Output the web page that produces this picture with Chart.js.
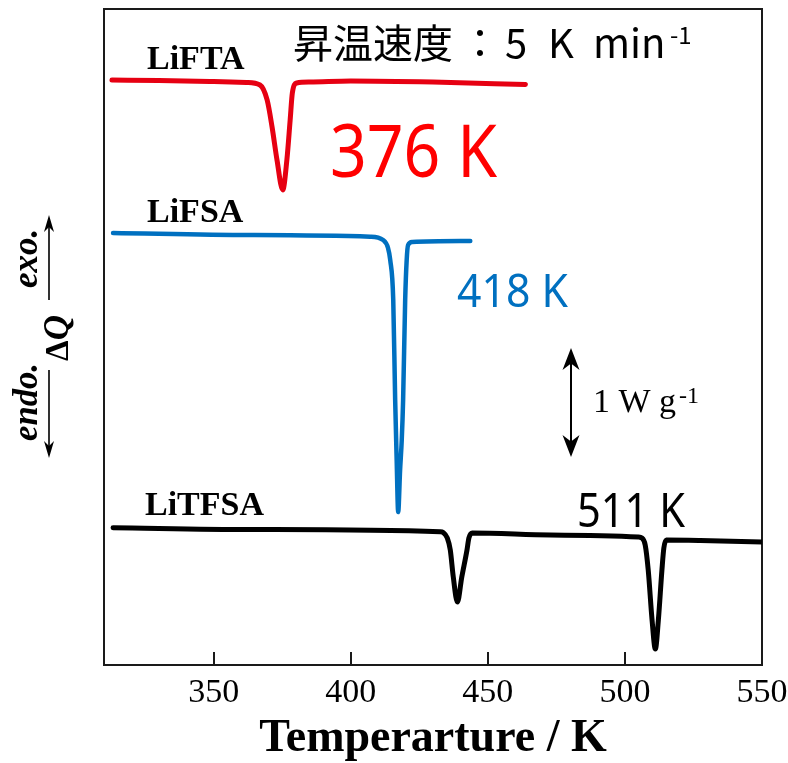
<!DOCTYPE html>
<html><head><meta charset="utf-8">
<script src="https://cdn.jsdelivr.net/npm/chart.js@4"></script>
<style>html,body{margin:0;padding:0;background:#fff}canvas{display:block}</style>
</head><body>
<canvas id="c" width="788" height="763"></canvas>
<script>
// ---- data (heat flow, offset, W g^-1) ----
const xTicks = [350, 400, 450, 500, 550];

const liftaT = [312.9, 330, 350, 362, 366.9, 369.5, 371.3, 373.1, 375.2, 376.7, 377.9, 378.7, 380.3, 385, 400, 430, 463.7];
const liftaQ = [5.351, 5.346, 5.337, 5.328, 5.305, 5.168, 4.921, 4.619, 4.345, 4.619, 4.985, 5.232, 5.323, 5.332, 5.342, 5.332, 5.309];

const lifsaT = [313.3, 363.3, 407.1, 411.8, 413.6, 414.4, 415.5, 416.2, 416.75, 417.3, 418.0, 418.6, 419.1, 419.85, 420.4, 420.9, 422.4, 443.6];
const lifsaQ = [3.951, 3.932, 3.917, 3.887, 3.814, 3.704, 3.338, 2.424, 1.875, 1.399, 1.784, 2.058, 2.424, 3.338, 3.704, 3.841, 3.869, 3.878];

const litfsaT = [313.3, 363.3, 432.6, 433.7, 435.2, 436.3, 437.4, 438.9, 440.5, 442.4, 443.1, 444.3, 472.8, 504.9, 506.2, 507.4, 508.5, 509.9, 511.1, 512.2, 513.5, 514.2, 515.1, 527.5, 550];
const litfsaQ = [1.256, 1.239, 1.219, 1.212, 1.162, 1.052, 0.805, 0.576, 0.805, 1.052, 1.162, 1.207, 1.189, 1.171, 1.162, 1.098, 0.869, 0.412, 0.146, 0.412, 0.869, 1.070, 1.143, 1.139, 1.125];

const seriesNames = ['LiFTA', 'LiFSA', 'LiTFSA'];
const peakLabels = ['376 K', '418 K', '511 K'];

const pts = (xs, ys) => xs.map((x, i) => ({x: x, y: ys[i]}));

function arrowHead(ctx, x, y, dir, w, len) {
  // dir: -1 up, +1 down
  ctx.beginPath();
  ctx.moveTo(x, y);
  ctx.lineTo(x - w / 2, y - dir * len);
  ctx.lineTo(x, y - dir * len * 0.7);
  ctx.lineTo(x + w / 2, y - dir * len);
  ctx.closePath();
  ctx.fill();
}

const deco = {
  id: 'deco',
  beforeDatasetsDraw(chart) {
    const ctx = chart.ctx, a = chart.chartArea, xs = chart.scales.x;
    ctx.save();
    ctx.strokeStyle = '#1a1a1a';
    ctx.lineWidth = 2;
    ctx.strokeRect(a.left, a.top, a.right - a.left, a.bottom - a.top);
    ctx.beginPath();
    xTicks.forEach(v => {
      const px = Math.round(xs.getPixelForValue(v));
      ctx.moveTo(px, a.bottom);
      ctx.lineTo(px, a.bottom - 13);
    });
    ctx.stroke();
    ctx.restore();
  },
  afterDraw(chart) {
    const ctx = chart.ctx;
    ctx.save();
    ctx.textBaseline = 'alphabetic';
    ctx.textAlign = 'left';
    // series names
    ctx.fillStyle = '#000';
    ctx.font = 'bold 34px "Liberation Serif"';
    ctx.fillText(seriesNames[0], 147, 69, 104);
    ctx.fillText(seriesNames[1], 147, 222, 102);
    ctx.fillText(seriesNames[2], 145, 515, 129);
    // heating rate
    ctx.font = '40px "Noto Sans CJK JP"';
    ctx.fillText('昇温速度', 293, 58);
    ctx.fillText('：', 460, 58);
    ctx.fillText('5', 505, 58);
    ctx.fillText('K', 548, 58);
    ctx.fillText('min', 593, 58);
    ctx.font = '24px "Noto Sans CJK JP"';
    ctx.fillText('-1', 670, 44);
    // peak labels
    ctx.font = '73px "Noto Sans"';
    ctx.fillStyle = '#ff0000';
    ctx.fillText(peakLabels[0], 330, 177, 167);
    ctx.font = '45px "Noto Sans"';
    ctx.fillStyle = '#0070c0';
    ctx.fillText(peakLabels[1], 457, 307, 111);
    ctx.font = '47px "Noto Sans"';
    ctx.fillStyle = '#000';
    ctx.fillText(peakLabels[2], 577, 527, 108);
    // scale bar
    ctx.strokeStyle = '#000';
    ctx.lineWidth = 2;
    ctx.beginPath();
    ctx.moveTo(571, 355); ctx.lineTo(571, 450);
    ctx.stroke();
    arrowHead(ctx, 571, 348, -1, 17, 22);
    arrowHead(ctx, 571, 457, 1, 17, 22);
    ctx.font = '34px "Liberation Serif"';
    ctx.fillText('1 W g', 593, 412);
    const w1 = ctx.measureText('1 W g').width;
    ctx.font = '24px "Liberation Serif"';
    ctx.fillText('-1', 593 + w1 + 3, 403);
    // y-axis label (rotated)
    ctx.lineWidth = 1.6;
    ctx.beginPath();
    ctx.moveTo(49, 450); ctx.lineTo(49, 370);
    ctx.moveTo(49, 300); ctx.lineTo(49, 222);
    ctx.stroke();
    arrowHead(ctx, 49, 215, -1, 10, 17);
    arrowHead(ctx, 49, 458, 1, 10, 17);
    ctx.rotate(-Math.PI / 2);
    ctx.font = 'italic bold 35px "Liberation Serif"';
    ctx.fillText('endo.', -441, 37, 78);
    ctx.fillText('exo.', -288, 37, 65);
    ctx.font = 'bold 33px "Liberation Serif"';
    ctx.fillText('Δ', -361, 68);
    const wd = ctx.measureText('Δ').width;
    ctx.font = 'italic bold 35px "Liberation Serif"';
    ctx.fillText('Q', -361 + wd, 68);
    ctx.restore();
  }
};

const common = {pointRadius: 0, borderWidth: 5, cubicInterpolationMode: 'monotone',
  borderJoinStyle: 'round', borderCapStyle: 'round', fill: false};

new Chart(document.getElementById('c'), {
  type: 'line',
  data: {
    datasets: [
      Object.assign({label: seriesNames[0], data: pts(liftaT, liftaQ), borderColor: '#e60012'}, common),
      Object.assign({label: seriesNames[1], data: pts(lifsaT, lifsaQ), borderColor: '#0070c0'}, common, {borderWidth: 4.5}),
      Object.assign({label: seriesNames[2], data: pts(litfsaT, litfsaQ), borderColor: '#000000'}, common)
    ]
  },
  options: {
    responsive: false,
    animation: false,
    devicePixelRatio: 1,
    layout: {padding: {left: 104, right: 26, top: 9, bottom: 0}},
    plugins: {legend: {display: false}, tooltip: {enabled: false}},
    scales: {
      x: {
        type: 'linear', min: 310, max: 550,
        grid: {display: false}, border: {display: false},
        afterBuildTicks(s) { s.ticks = xTicks.map(v => ({value: v})); },
        afterFit(s) { s.height = 98; s.paddingLeft = 0; s.paddingRight = 0; },
        ticks: {color: '#000', font: {family: '"Liberation Serif"', size: 34}, padding: 0, maxRotation: 0, autoSkip: false},
        title: {display: true, text: 'Temperarture / K', color: '#000',
          font: {family: '"Liberation Serif"', size: 46, weight: 'bold'}, padding: {top: 0, bottom: -4}}
      },
      y: {display: false, min: 0, max: 6}
    }
  },
  plugins: [deco]
});
</script>
</body></html>
